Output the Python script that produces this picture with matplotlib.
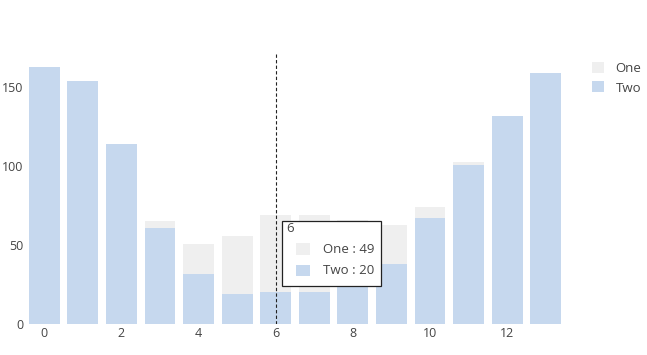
import matplotlib.pyplot as plt
from matplotlib.patches import Patch, Rectangle

plt.rcParams['font.family'] = ['Open Sans', 'DejaVu Sans']

# values (One is stacked on top of Two)
x = list(range(14))
two = [163, 154, 114, 61, 32, 19, 20, 20, 26, 38, 67, 101, 132, 159]
one = [0, 0, 0, 4, 19, 37, 49, 49, 40, 25, 7, 2, 0, 0]
hover_x = 6

c_one = '#efefef'
c_two = '#c6d8ee'
txt = '#444444'

fig = plt.figure(figsize=(6.47, 3.55), dpi=100)
ax = fig.add_axes([25 / 647, 31 / 355, 540 / 647, 270 / 355])

ax.bar(x, two, width=0.8, color=c_two, linewidth=0)
ax.bar(x, one, width=0.8, bottom=two, color=c_one, linewidth=0)

ax.set_xlim(-0.5, 13.5)
ax.set_ylim(0, max(a + b for a, b in zip(one, two)) * 1.05)
ax.set_xticks(range(0, 14, 2))
ax.set_yticks([0, 50, 100, 150])
for s in ax.spines.values():
    s.set_visible(False)
ax.tick_params(length=0, colors=txt, labelsize=9, pad=2)
ax.tick_params(axis='y', pad=1)

# hover spike line
ax.axvline(hover_x, color='#222222', lw=0.8, ls=(0, (3, 2)))

# hover box
i = x.index(hover_x)
box_x, box_y = hover_x + 0.17, 24
ax.add_patch(Rectangle((box_x, box_y), 2.56, 41.4, facecolor='white',
                       edgecolor='#222222', lw=0.9, zorder=5))
ax.text(box_x + 0.1, box_y + 36.5, str(hover_x), color=txt, fontsize=9.5,
        va='center', zorder=6)
for k, (name, val, col) in enumerate([('One', one[i], c_one), ('Two', two[i], c_two)]):
    yy = box_y + 23.5 - k * 13.5
    ax.add_patch(Rectangle((box_x + 0.36, yy - 3.6), 0.36, 7.2, facecolor=col,
                           lw=0, zorder=6))
    ax.text(box_x + 1.05, yy, f'{name} : {val}', color=txt, fontsize=9.5,
            va='center', zorder=6)

handles = [Patch(facecolor=c_one, lw=0), Patch(facecolor=c_two, lw=0)]
leg = fig.legend(handles, ['One', 'Two'], loc='upper left',
                 bbox_to_anchor=(580 / 647, 1 - 50 / 355), frameon=False,
                 fontsize=9.5, handlelength=0.9, handleheight=0.9,
                 handletextpad=0.9, labelspacing=0.5, labelcolor=txt)

fig.savefig('out.png', dpi=100)
